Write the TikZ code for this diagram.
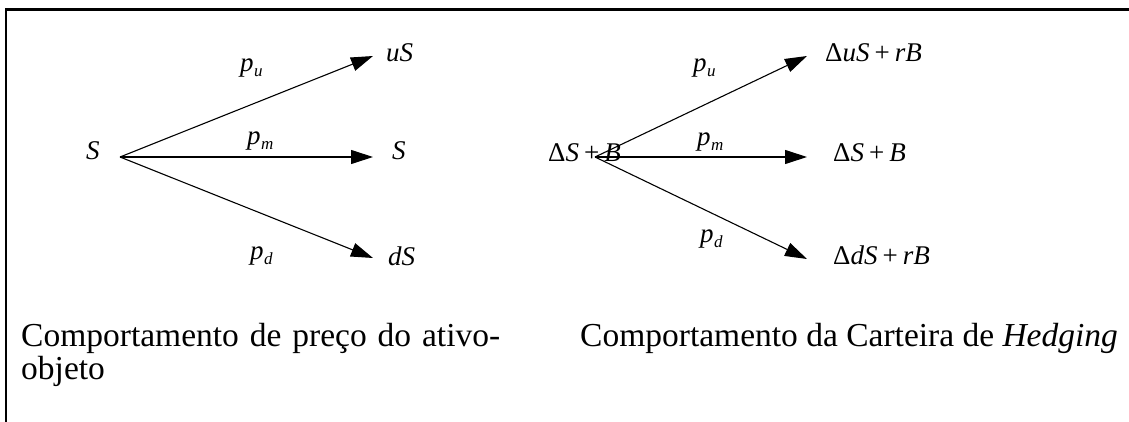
\documentclass[tikz,border=0pt]{standalone}
\usepackage{fontspec}
\setmainfont{Liberation Serif}
\usetikzlibrary{arrows.meta}
\newcommand\lblfont{\fontsize{27}{27}\selectfont}
\newcommand\captfont{\fontsize{33.5}{33}\selectfont}
\newcommand\vi[1]{\textit{#1}}
\newcommand\sbs[1]{\hspace{0.5pt}\raisebox{-5pt}{\fontsize{17}{17}\selectfont\itshape #1}}
\newcommand\pl{\hspace{5pt}+\hspace{5pt}}
\begin{document}
\begin{tikzpicture}[x=1pt,y=-1pt,
  arr/.style={line width=1.1pt,-{Triangle[length=22pt,width=14pt]}},
  lab/.style={inner sep=0pt,anchor=base west,font=\lblfont},
  capt/.style={inner sep=0pt,anchor=base west,font=\captfont}]
\useasboundingbox (0,0) rectangle (1129,422);
\draw[line width=2.3pt] (6,422) -- (6,9.5) -- (1129,9.5);
% left tree
\coordinate (o1) at (120,157);
\coordinate (u1) at (373,56);
\coordinate (m1) at (373,157);
\coordinate (d1) at (373,258);
\draw[arr] (o1) -- (u1);
\draw[arr] (o1) -- (m1);
\draw[arr] (o1) -- (d1);
\node[lab] (s1) at (86,160) {\vi{S}};
\node[lab] (us1) at (386,62) {\vi{uS}};
\node[lab] (sm1) at (392,160) {\vi{S}};
\node[lab] (ds1) at (388,265) {\vi{dS}};
\node[lab] (pu1) at (240,72) {\vi{p}\sbs{u}};
\node[lab] (pm1) at (247,145) {\vi{p}\sbs{m}};
\node[lab] (pd1) at (250,259) {\vi{p}\sbs{d}};
% right tree
\coordinate (o2) at (595,157);
\coordinate (u2) at (807,56);
\coordinate (m2) at (807,157);
\coordinate (d2) at (807,259);
\draw[arr] (o2) -- (u2);
\draw[arr] (o2) -- (m2);
\draw[arr] (o2) -- (d2);
\node[lab] (h0) at (548,162) {Δ\vi{S}\pl\vi{B}};
\node[lab] (hu) at (825,62) {Δ\vi{uS}\pl\vi{rB}};
\node[lab] (hm) at (833,162) {Δ\vi{S}\pl\vi{B}};
\node[lab] (hd) at (833,264) {Δ\vi{dS}\pl\vi{rB}};
\node[lab] (pu2) at (693,72) {\vi{p}\sbs{u}};
\node[lab] (pm2) at (697,146) {\vi{p}\sbs{m}};
\node[lab] (pd2) at (700,242) {\vi{p}\sbs{d}};
% captions
\node[capt] (c1) at (21,346) {\parbox[t]{479pt}{\captfont Comportamento de preço do ativo-objeto}};
\node[capt] (c2) at (580,346) {Comportamento da Carteira de \textit{Hedging}};
\end{tikzpicture}
\end{document}
